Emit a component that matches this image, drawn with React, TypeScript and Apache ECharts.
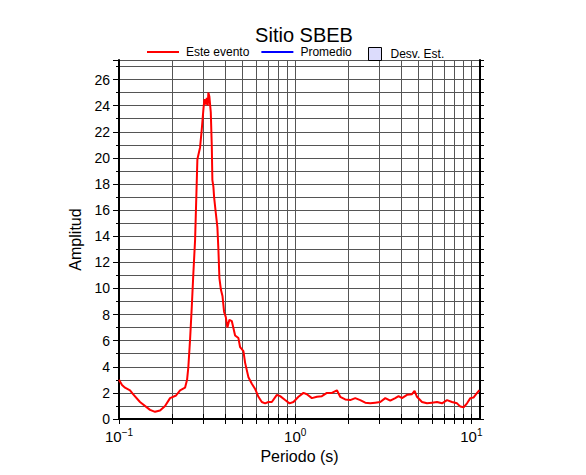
import React, { useEffect, useRef } from 'react';
import * as echarts from 'echarts';

const periods = [
  0.1, 0.104, 0.1082, 0.1155, 0.1201, 0.1316, 0.15, 0.1602, 0.171, 0.1826, 0.1949, 0.2108, 0.2222, 0.2371, 0.2434,
  0.2476, 0.2532, 0.2589, 0.2644, 0.2703, 0.2786, 0.2885, 0.2951, 0.3013, 0.3053, 0.3109, 0.315, 0.3191, 0.3216,
  0.3259, 0.3319, 0.3363, 0.3389, 0.3434, 0.3466, 0.3543, 0.3618, 0.3666, 0.3715, 0.379, 0.387, 0.395, 0.404,
  0.4124, 0.4233, 0.4368, 0.4561, 0.4762, 0.487, 0.5085, 0.5199, 0.5429, 0.5675, 0.5925, 0.6186, 0.6467, 0.6752,
  0.705, 0.737, 0.787, 0.8218, 0.8774, 0.9281, 0.9779, 1.044, 1.115, 1.165, 1.244, 1.329, 1.418, 1.514, 1.616,
  1.726, 1.802, 1.924, 2.054, 2.193, 2.341, 2.499, 2.668, 2.848, 3.041, 3.247, 3.466, 3.7, 3.864, 4.04, 4.313,
  4.604, 4.762, 4.914, 5.247, 5.602, 5.981, 6.385, 6.817, 7.278, 7.77, 8.297, 8.66, 9.042, 9.454, 9.87, 10.31,
  10.78, 11.11,
];
const amplitudes = [
  3.0, 2.6, 2.4, 2.2, 1.9, 1.3, 0.7, 0.55, 0.65, 1.0, 1.6, 1.8, 2.2, 2.4, 3.0,
  4.0, 6.1, 8.6, 11.2, 13.7, 19.9, 20.8, 22.2, 23.7, 24.5, 24.1, 24.6, 24.0, 25.0,
  24.7, 23.5, 20.9, 18.3, 17.8, 17.0, 15.8, 14.7, 13.0, 10.8, 9.9, 9.4, 8.2, 7.8,
  7.0, 7.6, 7.5, 6.4, 6.2, 5.5, 5.2, 4.3, 3.2, 2.7, 2.3, 1.7, 1.3, 1.2,
  1.3, 1.3, 1.85, 1.75, 1.45, 1.2, 1.3, 1.7, 2.0, 1.9, 1.6, 1.7, 1.75, 2.0, 2.0,
  2.2, 1.7, 1.5, 1.45, 1.6, 1.45, 1.25, 1.2, 1.25, 1.3, 1.6, 1.4, 1.6, 1.75, 1.6, 1.85,
  1.9, 2.15, 1.7, 1.3, 1.2, 1.25, 1.3, 1.2, 1.45, 1.3, 1.2, 0.95, 0.9, 1.2, 1.6, 1.65,
  2.0, 2.2,
];

const xTickValues = [0.1, 0.2, 0.3, 0.4, 0.5, 0.6, 0.7, 0.8, 0.9, 1, 2, 3, 4, 5, 6, 7, 8, 9, 10];
const xLabelValues = [0.1, 1, 10];
const titleText = 'Sitio SBEB';
const xName = 'Periodo (s)';
const yName = 'Amplitud';
const seriesNames = ['Este evento', 'Promedio', 'Desv. Est.'];

const FONT = 'Liberation Sans, Arial, Helvetica, sans-serif';
const LINE_ICON = 'path://M0,0 L32,0 L32,2 L0,2 Z';

export default function App() {
  const ref = useRef<HTMLDivElement>(null);
  useEffect(() => {
    const chart = echarts.init(ref.current!, null, { renderer: 'svg' });
    const yMin = 0;
    const yMax = 27.5;
    const xMin = 0.1;
    const xMax = 11.2;
    const gridColor = '#555';
    chart.setOption({
      animation: false,
      backgroundColor: '#fff',
      textStyle: { fontFamily: FONT },
      title: {
        text: titleText,
        left: 299,
        textAlign: 'center',
        top: 20,
        textStyle: { fontFamily: FONT, fontSize: 20, fontWeight: 'normal', color: '#000' },
      },
      legend: [
        {
          data: [
            { name: seriesNames[0], icon: LINE_ICON },
            { name: seriesNames[1], icon: LINE_ICON },
          ],
          left: 142,
          top: 41,
          itemWidth: 32,
          itemHeight: 13,
          itemGap: 12,
          textStyle: { fontFamily: FONT, fontSize: 12, color: '#000', padding: [0, 0, 0, 2] },
        },
        {
          data: [
            {
              name: seriesNames[2],
              icon: 'rect',
              itemStyle: { color: '#dcdcfc', borderColor: '#000', borderWidth: 1 },
            },
          ],
          left: 363,
          top: 42,
          itemWidth: 13,
          itemHeight: 13,
          textStyle: { fontFamily: FONT, fontSize: 12, color: '#000', padding: [0, 0, 0, 4] },
        },
      ],
      grid: { left: 119, right: 106, top: 60, bottom: 56, containLabel: false },
      xAxis: [
        {
          type: 'log',
          logBase: 10,
          min: xMin,
          max: xMax,
          position: 'bottom',
          name: xName,
          nameLocation: 'middle',
          nameGap: 27,
          nameTextStyle: { fontFamily: FONT, fontSize: 16, color: '#000' },
          axisLine: { show: true, lineStyle: { color: '#000', width: 2 } },
          axisTick: { show: true, customValues: xTickValues, length: 5, lineStyle: { color: '#000', width: 1 } },
          axisLabel: {
            customValues: xLabelValues,
            margin: 8,
            color: '#000',
            formatter: (v: number) => {
              const e = Math.round(Math.log10(v));
              return '{b|10}{s|' + (e < 0 ? '\u2212' + -e : String(e)) + '}';
            },
            rich: {
              b: { fontFamily: FONT, fontSize: 15, color: '#000', lineHeight: 18 },
              s: { fontFamily: FONT, fontSize: 10, color: '#000', verticalAlign: 'top', lineHeight: 18 },
            },
          },
          splitLine: { show: true, lineStyle: { color: gridColor, width: 1 } },
        },
        {
          type: 'log',
          logBase: 10,
          min: xMin,
          max: xMax,
          position: 'top',
          axisLine: { show: true, lineStyle: { color: '#000', width: 2 } },
          axisTick: { show: true, customValues: xTickValues, length: 5, lineStyle: { color: '#000', width: 1 } },
          axisLabel: { show: false },
          splitLine: { show: false },
        },
      ],
      yAxis: [
        {
          type: 'value',
          min: yMin,
          max: yMax,
          interval: 1,
          position: 'left',
          name: yName,
          nameLocation: 'middle',
          nameGap: 31,
          nameTextStyle: { fontFamily: FONT, fontSize: 16, color: '#000' },
          axisLine: { show: true, lineStyle: { color: '#000', width: 2 } },
          axisTick: { show: true, length: 3, lineStyle: { color: '#000' } },
          axisLabel: {
            margin: 9,
            fontFamily: FONT,
            fontSize: 14,
            color: '#000',
            showMaxLabel: false,
            formatter: (v: number) => (Math.abs(v % 2) < 1e-9 ? String(v) : ''),
          },
          splitLine: { show: true, lineStyle: { color: gridColor, width: 1 } },
        },
        {
          type: 'value',
          min: yMin,
          max: yMax,
          interval: 2,
          position: 'left',
          axisLine: { show: false },
          axisTick: { show: true, length: 6, lineStyle: { color: '#000' } },
          axisLabel: { show: false },
          splitLine: { show: false },
        },
        {
          type: 'value',
          min: yMin,
          max: yMax,
          interval: 1,
          position: 'right',
          axisLine: { show: true, lineStyle: { color: '#000', width: 2 } },
          axisTick: { show: true, length: 4, lineStyle: { color: '#000' } },
          axisLabel: { show: false },
          splitLine: { show: false },
        },
      ],
      series: [
        {
          name: seriesNames[0],
          type: 'line',
          xAxisIndex: 0,
          yAxisIndex: 0,
          symbol: 'none',
          lineStyle: { color: '#ff0000', width: 2 },
          itemStyle: { color: '#ff0000' },
          data: periods.map((p, i) => [p, amplitudes[i]]),
          z: 5,
        },
        {
          name: seriesNames[1],
          type: 'line',
          xAxisIndex: 0,
          yAxisIndex: 0,
          symbol: 'none',
          lineStyle: { color: '#0000ff', width: 2 },
          itemStyle: { color: '#0000ff' },
          data: [],
        },
        {
          name: seriesNames[2],
          type: 'line',
          xAxisIndex: 0,
          yAxisIndex: 0,
          symbol: 'none',
          lineStyle: { color: '#dcdcfc', width: 0 },
          itemStyle: { color: '#dcdcfc' },
          data: [],
        },
      ],
    });
    return () => chart.dispose();
  }, []);
  return <div ref={ref} style={{ position: 'fixed', left: 0, top: 0, width: 586, height: 475 }} />;
}
